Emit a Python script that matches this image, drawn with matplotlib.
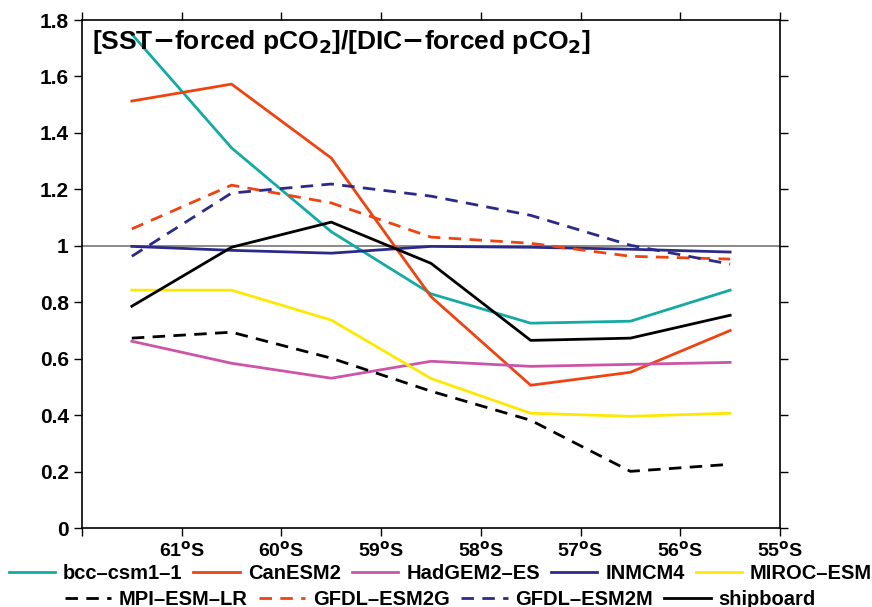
import numpy as np
import matplotlib
matplotlib.use("Agg")
import matplotlib.pyplot as plt

plt.rcParams['font.family'] = ['Liberation Sans', 'DejaVu Sans']
plt.rcParams['font.weight'] = 'bold'
plt.rcParams['mathtext.default'] = 'bf'

# ---------------------------------------------------------------------------
# Data: ratio of SST-forced to DIC-forced pCO2 by latitude band (deg S)
# ---------------------------------------------------------------------------
lat = [61.5, 60.5, 59.5, 58.5, 57.5, 56.5, 55.5]

bcc_csm1_1  = [1.75, 1.347, 1.05, 0.83, 0.726, 0.733, 0.843]
canesm2     = [1.513, 1.573, 1.311, 0.82, 0.506, 0.552, 0.70]
hadgem2_es  = [0.662, 0.584, 0.531, 0.591, 0.573, 0.58, 0.587]
inmcm4      = [0.998, 0.984, 0.974, 0.998, 0.995, 0.988, 0.978]
miroc_esm   = [0.843, 0.843, 0.737, 0.53, 0.407, 0.396, 0.407]
mpi_esm_lr  = [0.673, 0.694, 0.602, 0.485, 0.382, 0.201, 0.226]
gfdl_esm2g  = [1.06, 1.215, 1.152, 1.031, 1.009, 0.963, 0.953]
gfdl_esm2m  = [0.963, 1.187, 1.219, 1.176, 1.108, 1.002, 0.935]
shipboard   = [0.786, 0.995, 1.084, 0.938, 0.665, 0.673, 0.754]

xticks = [62, 61, 60, 59, 58, 57, 56, 55]
xticklabels = [''] + [r'%d$^{\mathbf{o}}$S' % v for v in xticks[1:]]
yticks = [0, 0.2, 0.4, 0.6, 0.8, 1.0, 1.2, 1.4, 1.6, 1.8]
yticklabels = ['0', '0.2', '0.4', '0.6', '0.8', '1', '1.2', '1.4', '1.6', '1.8']

# ---------------------------------------------------------------------------
# Figure
# ---------------------------------------------------------------------------
fig = plt.figure(figsize=(8.72, 6.07), dpi=100)
ax = fig.add_axes([0.094, 0.130, 0.8005, 0.837])

ax.axhline(1.0, color='#777777', lw=1.2, zorder=1)

lw = 2.0
dash = (0, (4.5, 3))
row1 = [
    ax.plot(lat, bcc_csm1_1, color='#14aaa4', lw=lw, label='bcc\u2013csm1\u20131')[0],
    ax.plot(lat, canesm2, color='#ee4411', lw=lw, label='CanESM2')[0],
    ax.plot(lat, hadgem2_es, color='#cc55a8', lw=lw, label='HadGEM2\u2013ES')[0],
    ax.plot(lat, inmcm4, color='#2c2a88', lw=lw, label='INMCM4')[0],
    ax.plot(lat, miroc_esm, color='#ffe800', lw=lw, label='MIROC\u2013ESM')[0],
]
row2 = [
    ax.plot(lat, mpi_esm_lr, color='black', lw=lw, ls=dash, label='MPI\u2013ESM\u2013LR')[0],
    ax.plot(lat, gfdl_esm2g, color='#ee4411', lw=lw, ls=dash, label='GFDL\u2013ESM2G')[0],
    ax.plot(lat, gfdl_esm2m, color='#2c2a88', lw=lw, ls=dash, label='GFDL\u2013ESM2M')[0],
    ax.plot(lat, shipboard, color='black', lw=lw, label='shipboard')[0],
]

ax.set_xlim(62, 55)
ax.set_ylim(0, 1.8)
ax.set_xticks(xticks)
ax.set_xticklabels(xticklabels, fontsize=14, fontweight='bold')
ax.set_yticks(yticks)
ax.set_yticklabels(yticklabels, fontsize=15, fontweight='bold')
ax.tick_params(direction='out', length=6, width=1, top=True, right=True,
               labeltop=False, labelright=False)
ax.tick_params(axis='x', pad=3)
for s in ax.spines.values():
    s.set_linewidth(1.2)

ax.text(0.015, 0.985, r'[SST$\mathbf{-}$forced pCO$_\mathbf{2}$]/[DIC$\mathbf{-}$forced pCO$_\mathbf{2}$]',
        transform=ax.transAxes, ha='left', va='top', fontsize=19, fontweight='bold')

leg_kw = dict(frameon=False, fontsize=14.5, handlelength=2.3, handletextpad=0.4,
              columnspacing=0.55, borderaxespad=0, borderpad=0)
leg1 = fig.legend(handles=row1, ncol=5, loc='center', bbox_to_anchor=(0.505, 0.055), **leg_kw)
leg2 = fig.legend(handles=row2, ncol=4, loc='center', bbox_to_anchor=(0.505, 0.013), **leg_kw)
for leg in (leg1, leg2):
    for t in leg.get_texts():
        t.set_fontweight('bold')

fig.savefig('out.png', dpi=100)
